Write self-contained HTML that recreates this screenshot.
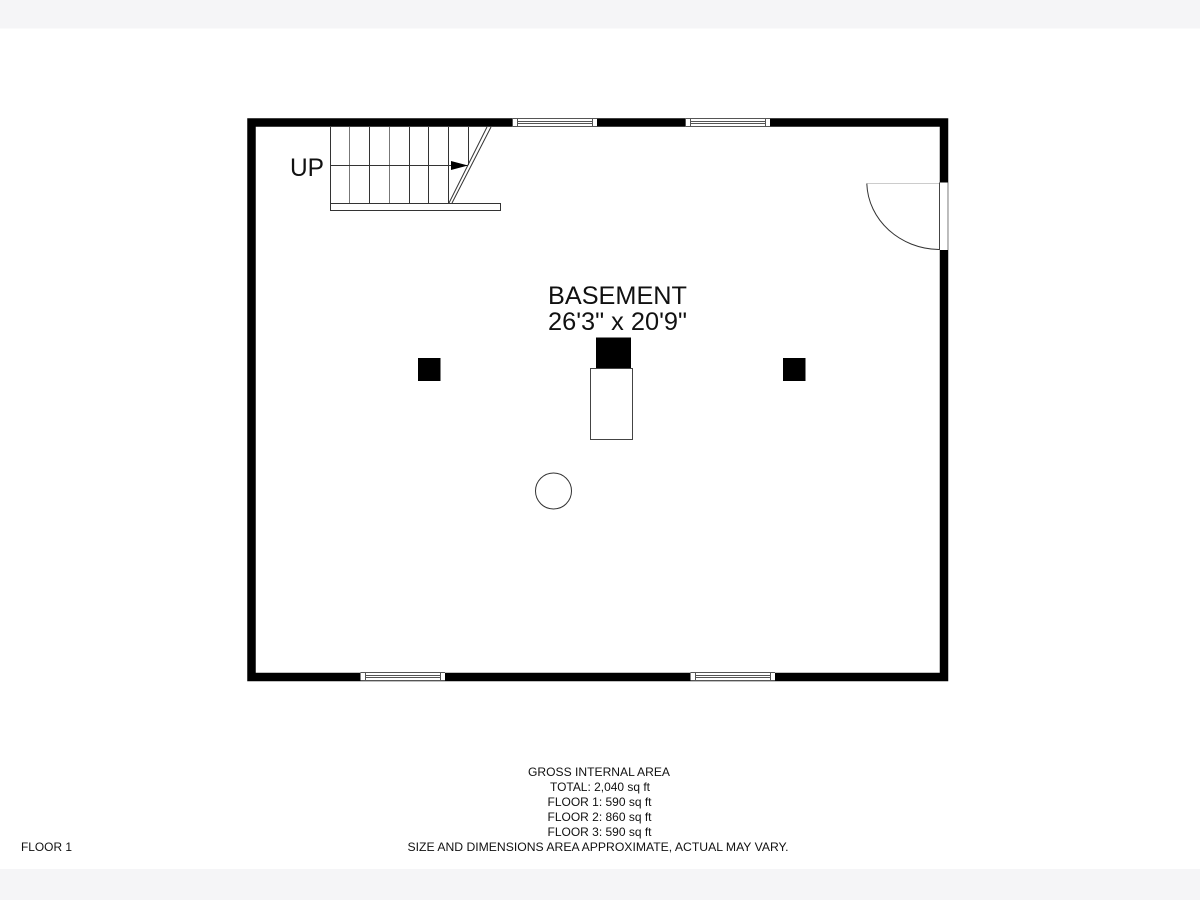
<!DOCTYPE html>
<html>
<head>
<meta charset="utf-8">
<style>
html,body{margin:0;padding:0;background:#fff;}
svg{display:block;}
text{font-family:"Liberation Sans",sans-serif;fill:#111;}
</style>
</head>
<body>
<svg width="1200" height="900" viewBox="0 0 1200 900" xmlns="http://www.w3.org/2000/svg">
<rect width="1200" height="900" fill="#fff"/>
<rect x="0" y="0" width="1200" height="28.5" fill="#f5f5f7"/>
<rect x="0" y="869" width="1200" height="31" fill="#f5f5f7"/>

<!-- walls -->
<rect x="251.5" y="122.5" width="692.5" height="554.5" fill="none" stroke="#000" stroke-width="8.5"/>

<!-- windows -->
<g fill="#fff">
<rect x="512.5" y="118" width="84.5" height="9"/>
<rect x="685.5" y="118" width="84.5" height="9"/>
<rect x="360.5" y="672" width="84.5" height="9"/>
<rect x="690.5" y="672" width="84.5" height="9"/>
</g>
<g fill="none" stroke="#555" stroke-width="1">
<path d="M512.5 118.5H597M512.5 126.5H597M517.5 118.5V126.5M592.5 118.5V126.5M517.5 121.5H592.5M517.5 123.5H592.5M512.5 118.5V126.5"/>
<path d="M685.5 118.5H770M685.5 126.5H770M690.5 118.5V126.5M765.5 118.5V126.5M690.5 121.5H765.5M690.5 123.5H765.5M685.5 118.5V126.5"/>
<path d="M360.5 672.5H445M360.5 680.5H445M365.5 672.5V680.5M440.5 672.5V680.5M365.5 675.5H440.5M365.5 677.5H440.5"/>
<path d="M690.5 672.5H775M690.5 680.5H775M695.5 672.5V680.5M770.5 672.5V680.5M695.5 675.5H770.5M695.5 677.5H770.5"/>
</g>

<!-- door -->
<rect x="939" y="182.5" width="9" height="67.5" fill="#fff"/>
<path d="M939.5 182.5V250" fill="none" stroke="#444" stroke-width="1"/>
<path d="M947.5 182.5V250" fill="none" stroke="#bbb" stroke-width="1"/>
<path d="M867 183.5H939" fill="none" stroke="#ccc" stroke-width="1"/>
<path d="M866.8 183.5C868 220 900 249 939 249.5" fill="none" stroke="#333" stroke-width="1"/>

<!-- stairs -->
<g fill="none" stroke="#333" stroke-width="1">
<path d="M330.5 127V203"/>
<path d="M349.5 127V203" stroke="#777"/>
<path d="M369.5 127V203"/>
<path d="M389.5 127V203" stroke="#777"/>
<path d="M409.5 127V203"/>
<path d="M428.5 127V203"/>
<path d="M448.5 127V203"/>
<path d="M468.5 127V165"/>
<path d="M330 165.5H468"/>
<rect x="330.5" y="203.5" width="170" height="7"/>
<path d="M449 203L487 127"/>
<path d="M452 203L491 127"/>
</g>
<path d="M451 161L468 165.5L451 170Z" fill="#000"/>
<text x="290" y="176" font-size="25" textLength="34" lengthAdjust="spacingAndGlyphs">UP</text>

<!-- columns and fixtures -->
<rect x="418" y="358" width="22.5" height="23" fill="#000"/>
<rect x="783" y="358" width="22.5" height="23" fill="#000"/>
<rect x="596" y="337.5" width="35" height="31" fill="#000"/>
<rect x="590.5" y="368.5" width="42" height="71" fill="#fff" stroke="#444" stroke-width="1"/>
<circle cx="553.5" cy="491" r="18" fill="none" stroke="#333" stroke-width="1"/>

<!-- room label -->
<text x="548" y="304" font-size="25" textLength="139" lengthAdjust="spacingAndGlyphs">BASEMENT</text>
<text x="548" y="330" font-size="25" textLength="139" lengthAdjust="spacingAndGlyphs">26'3" x 20'9"</text>

<!-- footer -->
<g font-size="12" text-anchor="middle">
<text x="599" y="776" textLength="142" lengthAdjust="spacingAndGlyphs">GROSS INTERNAL AREA</text>
<text x="600" y="791" textLength="100" lengthAdjust="spacingAndGlyphs">TOTAL: 2,040 sq ft</text>
<text x="599.5" y="806" textLength="104" lengthAdjust="spacingAndGlyphs">FLOOR 1: 590 sq ft</text>
<text x="599.5" y="821" textLength="104" lengthAdjust="spacingAndGlyphs">FLOOR 2: 860 sq ft</text>
<text x="599.5" y="836" textLength="104" lengthAdjust="spacingAndGlyphs">FLOOR 3: 590 sq ft</text>
<text x="598" y="851" textLength="381" lengthAdjust="spacingAndGlyphs">SIZE AND DIMENSIONS AREA APPROXIMATE, ACTUAL MAY VARY.</text>
</g>
<text x="21" y="851" font-size="12" textLength="51" lengthAdjust="spacingAndGlyphs">FLOOR 1</text>
</svg>
</body>
</html>
